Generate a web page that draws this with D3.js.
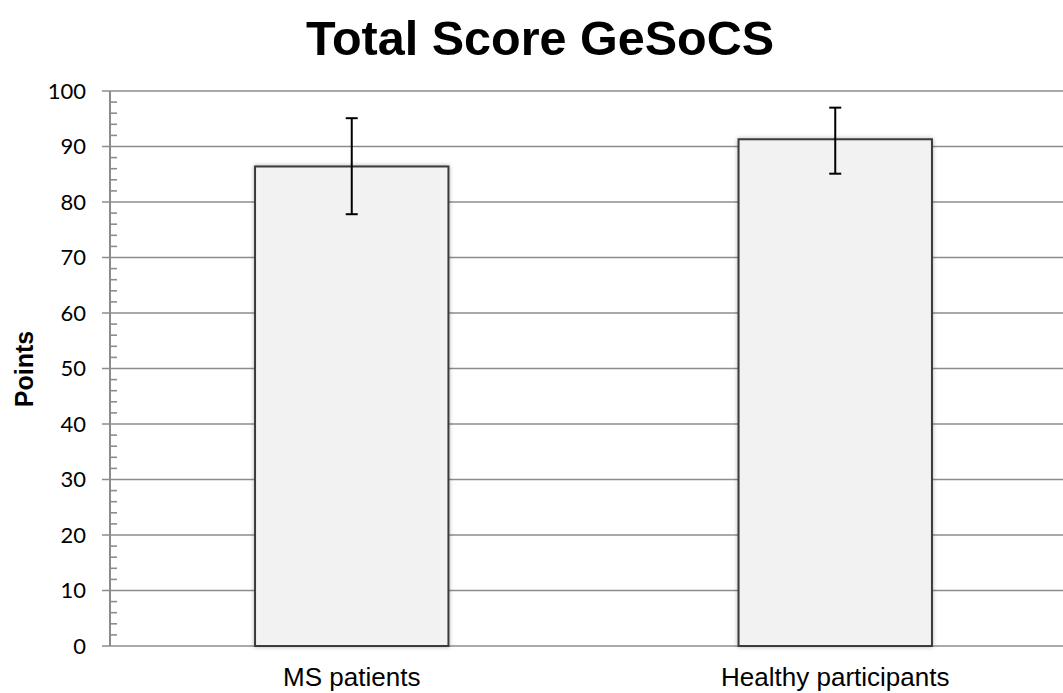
<!DOCTYPE html>
<html>
<head>
<meta charset="utf-8">
<script src="https://cdn.jsdelivr.net/npm/d3@7"></script>
<style>
  html, body { margin: 0; padding: 0; background: #fff; }
  svg { display: block; }
</style>
</head>
<body>
<svg id="chart" width="1063" height="693"></svg>
<script>
// Group labels, mean total scores and the ends of each error bar
const categories = ["MS patients", "Healthy participants"];
const means = [86.4, 91.3];
const errUpper = [95.1, 97.0];
const errLower = [77.8, 85.1];
const yTicks = [0, 10, 20, 30, 40, 50, 60, 70, 80, 90, 100];
const yMinorTicks = d3.range(0, 100, 2).filter(v => v % 10 !== 0);

(function () {
  const svg = d3.select("#chart");
  const W = 1063;
  const plotLeft = 110, plotRight = 1077, plotTop = 91, plotBottom = 646;

  const x = d3.scaleBand()
    .domain(categories)
    .range([plotLeft, plotRight])
    .paddingInner(0.6)
    .paddingOuter(0.3);

  const y = d3.scaleLinear().domain([0, 100]).range([plotBottom, plotTop]);

  const defs = svg.append("defs");
  const shadow = defs.append("filter").attr("id", "barShadow")
    .attr("x", "-10%").attr("y", "-10%").attr("width", "120%").attr("height", "120%");
  shadow.append("feDropShadow")
    .attr("dx", 0).attr("dy", 0).attr("stdDeviation", 2)
    .attr("flood-color", "#000").attr("flood-opacity", 0.3);

  // Title
  svg.append("text")
    .attr("x", 540).attr("y", 55)
    .attr("text-anchor", "middle")
    .style("font-family", "'Liberation Sans', Arial, sans-serif")
    .style("font-weight", "bold")
    .style("font-size", "48.5px")
    .text("Total Score GeSoCS");

  // Horizontal gridlines
  svg.append("g").selectAll("line")
    .data(yTicks)
    .join("line")
    .attr("x1", plotLeft - 8).attr("x2", W)
    .attr("y1", d => y(d)).attr("y2", d => y(d))
    .attr("stroke", "#8c8c8c").attr("stroke-width", 1.6);

  // Y axis line and minor ticks
  svg.append("line")
    .attr("x1", plotLeft).attr("x2", plotLeft)
    .attr("y1", y(100)).attr("y2", y(0))
    .attr("stroke", "#8c8c8c").attr("stroke-width", 2);

  svg.append("g").selectAll("line")
    .data(yMinorTicks)
    .join("line")
    .attr("x1", plotLeft).attr("x2", plotLeft + 7)
    .attr("y1", d => y(d)).attr("y2", d => y(d))
    .attr("stroke", "#8c8c8c").attr("stroke-width", 1.6);

  // Y tick labels
  svg.append("g").selectAll("text")
    .data(yTicks)
    .join("text")
    .attr("x", 86).attr("y", d => y(d))
    .attr("dy", "0.36em")
    .attr("text-anchor", "end")
    .style("font-family", "Lato, 'Open Sans', sans-serif")
    .style("font-size", "22px")
    .style("fill", "#000")
    .text(d => d);

  // Y axis title
  svg.append("text")
    .attr("transform", "translate(33,369) rotate(-90)")
    .attr("text-anchor", "middle")
    .style("font-family", "'Liberation Sans', Arial, sans-serif")
    .style("font-weight", "bold")
    .style("font-size", "25px")
    .text("Points");

  // Bars
  svg.append("g").selectAll("rect")
    .data(categories)
    .join("rect")
    .attr("x", d => x(d))
    .attr("y", (d, i) => y(means[i]))
    .attr("width", x.bandwidth())
    .attr("height", (d, i) => y(0) - y(means[i]))
    .attr("fill", "#f2f2f2")
    .attr("stroke", "#3a3a3a")
    .attr("stroke-width", 2)
    .attr("filter", "url(#barShadow)");

  // Error bars
  const eb = svg.append("g").selectAll("g")
    .data(categories)
    .join("g")
    .attr("transform", d => `translate(${x(d) + x.bandwidth() / 2},0)`);

  eb.append("line")
    .attr("x1", 0).attr("x2", 0)
    .attr("y1", (d, i) => y(errUpper[i]))
    .attr("y2", (d, i) => y(errLower[i]))
    .attr("stroke", "#000").attr("stroke-width", 2);

  eb.append("line")
    .attr("x1", -6).attr("x2", 6)
    .attr("y1", (d, i) => y(errUpper[i]))
    .attr("y2", (d, i) => y(errUpper[i]))
    .attr("stroke", "#000").attr("stroke-width", 2);

  eb.append("line")
    .attr("x1", -6).attr("x2", 6)
    .attr("y1", (d, i) => y(errLower[i]))
    .attr("y2", (d, i) => y(errLower[i]))
    .attr("stroke", "#000").attr("stroke-width", 2);

  // Category labels
  svg.append("g").selectAll("text")
    .data(categories)
    .join("text")
    .attr("x", d => x(d) + x.bandwidth() / 2)
    .attr("y", 686)
    .attr("text-anchor", "middle")
    .style("font-family", "'Liberation Sans', Arial, sans-serif")
    .style("font-size", "26px")
    .text(d => d);
})();
</script>
</body>
</html>
